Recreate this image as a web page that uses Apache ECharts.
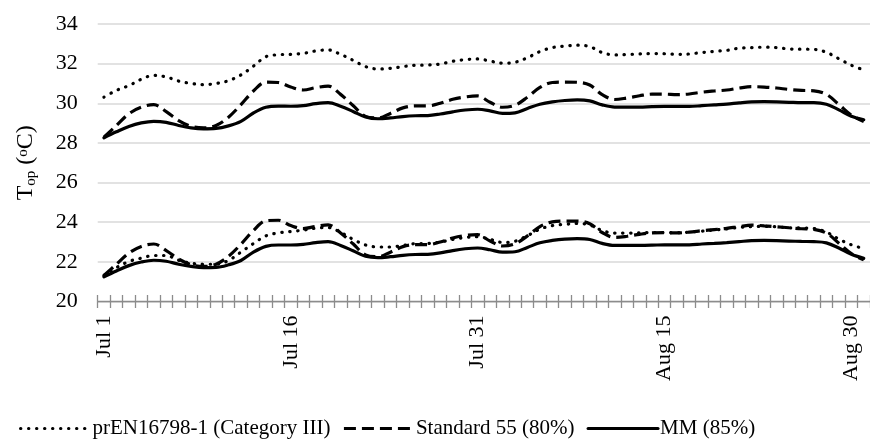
<!DOCTYPE html>
<html>
<head>
<meta charset="utf-8">
<script src="https://cdn.jsdelivr.net/npm/echarts@6/dist/echarts.min.js"></script>
<style>
html,body{margin:0;padding:0;background:#fff;}
#chart{width:870px;height:445px;}
</style>
</head>
<body>
<div id="chart"></div>
<script>
var categories = [
  "Jul 1","Jul 2","Jul 3","Jul 4","Jul 5","Jul 6","Jul 7","Jul 8","Jul 9","Jul 10",
  "Jul 11","Jul 12","Jul 13","Jul 14","Jul 15","Jul 16","Jul 17","Jul 18","Jul 19","Jul 20",
  "Jul 21","Jul 22","Jul 23","Jul 24","Jul 25","Jul 26","Jul 27","Jul 28","Jul 29","Jul 30",
  "Jul 31","Aug 1","Aug 2","Aug 3","Aug 4","Aug 5","Aug 6","Aug 7","Aug 8","Aug 9",
  "Aug 10","Aug 11","Aug 12","Aug 13","Aug 14","Aug 15","Aug 16","Aug 17","Aug 18","Aug 19",
  "Aug 20","Aug 21","Aug 22","Aug 23","Aug 24","Aug 25","Aug 26","Aug 27","Aug 28","Aug 29",
  "Aug 30","Aug 31"
];

var seriesNames = ["prEN16798-1 (Category III)", "Standard 55 (80%)", "MM (85%)"];

// prEN16798-1 (Category III) upper / lower limits
var prenUpper = [30.31,30.65,30.89,31.21,31.41,31.33,31.12,31.00,30.94,31.00,
  31.14,31.43,31.87,32.35,32.45,32.47,32.52,32.64,32.69,32.47,
  32.17,31.85,31.73,31.76,31.85,31.92,31.93,31.98,32.12,32.20,
  32.24,32.13,32.02,32.07,32.30,32.61,32.81,32.88,32.93,32.86,
  32.56,32.44,32.46,32.49,32.51,32.50,32.47,32.49,32.56,32.62,
  32.67,32.78,32.81,32.83,32.81,32.74,32.73,32.72,32.57,32.25,
  31.92,31.68];
var prenLower = [21.32,21.71,22.02,22.19,22.32,22.32,22.08,21.93,21.88,21.88,
  22.07,22.49,22.92,23.31,23.46,23.53,23.60,23.70,23.73,23.49,
  23.14,22.85,22.75,22.75,22.83,22.92,22.93,23.00,23.13,23.23,
  23.27,23.14,22.98,23.04,23.32,23.65,23.83,23.89,23.94,23.86,
  23.58,23.45,23.45,23.46,23.48,23.48,23.47,23.50,23.55,23.61,
  23.66,23.74,23.78,23.79,23.77,23.72,23.71,23.68,23.50,23.15,
  22.86,22.67];

// Standard 55 (80%) upper / lower limits
var ashraeUpper = [28.29,28.88,29.47,29.80,29.93,29.58,29.13,28.84,28.76,28.88,
  29.30,29.93,30.62,31.07,31.05,30.82,30.67,30.79,30.87,30.45,
  29.89,29.34,29.26,29.49,29.77,29.87,29.87,30.00,30.20,30.32,
  30.37,30.05,29.80,29.90,30.31,30.80,31.05,31.07,31.06,30.92,
  30.44,30.19,30.27,30.38,30.46,30.46,30.44,30.47,30.56,30.62,
  30.67,30.77,30.84,30.82,30.77,30.70,30.65,30.63,30.45,29.94,
  29.40,29.08];
var ashraeLower = [21.32,21.88,22.44,22.78,22.90,22.57,22.14,21.86,21.77,21.88,
  22.28,22.89,23.58,24.07,24.10,23.83,23.68,23.79,23.87,23.46,
  22.91,22.35,22.26,22.49,22.77,22.87,22.87,23.00,23.20,23.33,
  23.37,23.05,22.80,22.91,23.31,23.78,24.02,24.06,24.06,23.92,
  23.48,23.23,23.29,23.39,23.46,23.47,23.46,23.50,23.57,23.63,
  23.69,23.78,23.85,23.82,23.77,23.72,23.67,23.64,23.45,22.94,
  22.42,22.10];

// MM (85%) upper / lower limits
var mmUpper = [28.26,28.56,28.83,29.01,29.09,29.04,28.88,28.76,28.71,28.73,
  28.86,29.09,29.51,29.80,29.86,29.85,29.88,29.98,30.03,29.85,
  29.59,29.31,29.22,29.26,29.33,29.37,29.38,29.46,29.57,29.66,
  29.70,29.62,29.49,29.52,29.74,29.95,30.07,30.14,30.17,30.12,
  29.92,29.81,29.81,29.81,29.83,29.84,29.84,29.84,29.88,29.92,
  29.96,30.02,30.07,30.08,30.07,30.05,30.03,30.03,29.95,29.67,
  29.35,29.17];
var mmLower = [21.25,21.54,21.81,21.99,22.08,22.03,21.88,21.77,21.71,21.72,
  21.85,22.07,22.49,22.78,22.85,22.85,22.88,22.97,23.02,22.83,
  22.56,22.28,22.21,22.26,22.33,22.37,22.38,22.45,22.57,22.66,
  22.70,22.61,22.49,22.51,22.73,22.96,23.08,23.15,23.17,23.13,
  22.93,22.83,22.83,22.83,22.84,22.86,22.86,22.86,22.90,22.93,
  22.97,23.02,23.07,23.08,23.07,23.05,23.03,23.02,22.96,22.70,
  22.38,22.18];

var yTicks = {min: 20, max: 34, interval: 2};

var FONT = "'Liberation Serif', 'Times New Roman', serif";
var dotStyle = {color: "#000", width: 3.2, type: [0.4, 7.6], cap: "round"};
var dashStyle = {color: "#000", width: 3.2, type: [12, 6], cap: "butt"};
var solidStyle = {color: "#000", width: 3.2, type: "solid", cap: "round"};

function mk(name, data, style, z) {
  return {
    name: name, type: "line", data: data, symbol: "none", showSymbol: false, smooth: 0.35,
    lineStyle: style, itemStyle: {color: "#000"}, z: z, animation: false
  };
}

var chart = echarts.init(document.getElementById("chart"), null, {renderer: "canvas"});
chart.setOption({
  animation: false,
  backgroundColor: "#fff",
  grid: {left: 97.7, right: -2.6, top: 24, bottom: 143.5, containLabel: false},
  legend: {
    data: seriesNames,
    bottom: 1,
    left: 14,
    itemWidth: 70,
    itemHeight: 12,
    itemGap: 12,
    itemStyle: {opacity: 0},
    lineStyle: {width: 3},
    textStyle: {fontFamily: FONT, fontSize: 21, color: "#000", padding: [0, 0, 0, -3]}
  },
  xAxis: [{
    type: "category",
    data: categories,
    boundaryGap: true,
    axisLine: {show: true, lineStyle: {color: "#8c8c8c", width: 1.3}},
    axisTick: {show: true, interval: 0, length: 6.5, lineStyle: {color: "#8c8c8c", width: 1.3}},
    axisLabel: {interval: 14, rotate: 90, margin: 14, fontFamily: FONT, fontSize: 22, color: "#000"},
    splitLine: {show: false}
  }, {
    type: "category",
    data: categories,
    position: "bottom",
    boundaryGap: true,
    axisLine: {show: false},
    axisTick: {show: true, inside: true, interval: 0, length: 6.5, lineStyle: {color: "#8c8c8c", width: 1.3}},
    axisLabel: {show: false},
    splitLine: {show: false}
  }],
  yAxis: {
    type: "value",
    min: yTicks.min, max: yTicks.max, interval: yTicks.interval,
    axisLine: {show: false},
    axisTick: {show: false},
    axisLabel: {margin: 20, fontFamily: FONT, fontSize: 22, color: "#000"},
    splitLine: {lineStyle: {color: "#d9d9d9", width: 1.5}},
    name: "{t|T}{s|op}{t| (}{p|o}{t|C)}",
    nameLocation: "middle",
    nameRotate: 90,
    nameGap: 58,
    nameTextStyle: {
      fontFamily: FONT, fontSize: 24, color: "#000",
      rich: {
        t: {fontFamily: FONT, fontSize: 24, color: "#000", lineHeight: 28, verticalAlign: "middle"},
        s: {fontFamily: FONT, fontSize: 15, color: "#000", lineHeight: 28, verticalAlign: "bottom", padding: [0, 0, 1, 0]},
        p: {fontFamily: FONT, fontSize: 15, color: "#000", lineHeight: 28, verticalAlign: "top", padding: [4, 0, 0, 0]}
      }
    }
  },
  series: [
    mk(seriesNames[0], prenUpper, dotStyle, 3),
    mk(seriesNames[1], ashraeUpper, dashStyle, 4),
    mk(seriesNames[2], mmUpper, solidStyle, 5),
    mk(seriesNames[0], prenLower, dotStyle, 3),
    mk(seriesNames[1], ashraeLower, dashStyle, 4),
    mk(seriesNames[2], mmLower, solidStyle, 5)
  ]
});
</script>
</body>
</html>
